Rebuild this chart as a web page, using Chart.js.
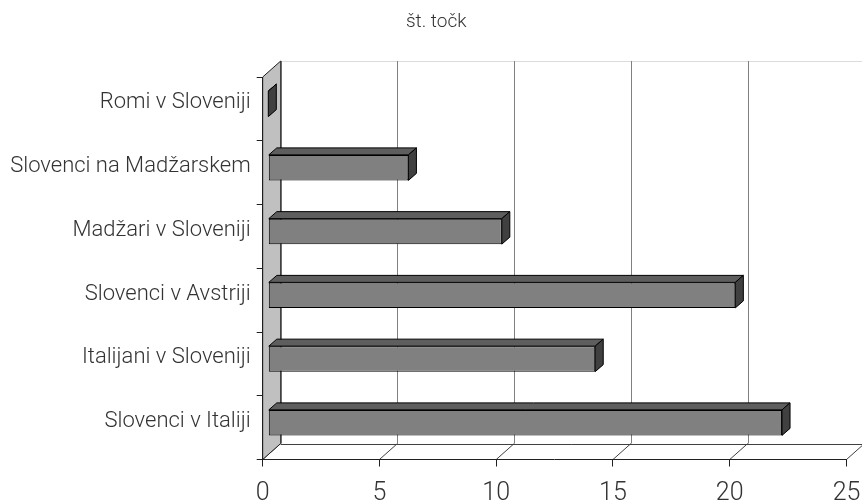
<!DOCTYPE html>
<html>
<head>
<meta charset="utf-8">
<script src="https://cdn.jsdelivr.net/npm/chart.js@4/dist/chart.umd.min.js"></script>
<style>
  html, body { margin: 0; padding: 0; background: #fff; overflow: hidden; }
  #wrap { width: 862px; height: 500px; overflow: hidden; }
</style>
</head>
<body>
<div id="wrap"><canvas id="grafico" width="862" height="520"></canvas></div>
<script>
// categorias (de cima para baixo) e valores
const skupine = ['Romi v Sloveniji', 'Slovenci na Madžarskem', 'Madžari v Sloveniji',
                 'Slovenci v Avstriji', 'Italijani v Sloveniji', 'Slovenci v Italiji'];
const tocke = [0, 6, 10, 20, 14, 22];
const osX = [0, 5, 10, 15, 20, 25];
const naslov = 'št. točk';

// profundidade 3D
const zid = { dx: 18, dy: -16 };      // parede do fundo
const stolpecSpredaj = { dx: 5.6, dy: -5 };
const stolpecGlobina = { dx: 8, dy: -7 };

const fontLabel = "'Roboto', 'DejaVu Sans', sans-serif";

// plugin que desenha paredes, chão e faces das barras
const efeito3D = {
    id: 'efeito3D',
    afterLayout(chart) {
        // título um pouco deslocado para a direita, como no original
        if (chart.titleBlock) chart.titleBlock.left = 26;
    },
    beforeDraw(chart) {
        const { ctx, chartArea: a, scales } = chart;
        const x = scales.x;
        ctx.save();
        // parede do fundo: linhas de grade
        ctx.strokeStyle = '#dcdcdc';
        ctx.lineWidth = 1;
        ctx.beginPath();
        ctx.moveTo(a.left + zid.dx, a.top + zid.dy + 0.5);
        ctx.lineTo(a.right + zid.dx, a.top + zid.dy + 0.5);
        ctx.stroke();
        ctx.strokeStyle = '#808080';
        osX.forEach(v => {
            const px = Math.round(x.getPixelForValue(v) + zid.dx) + 0.5;
            ctx.beginPath();
            ctx.moveTo(px, a.top + zid.dy);
            ctx.lineTo(px, a.bottom + zid.dy);
            ctx.stroke();
        });
        // chão
        ctx.strokeStyle = '#404040';
        ctx.beginPath();
        ctx.moveTo(a.left + zid.dx, Math.round(a.bottom + zid.dy) + 0.5);
        ctx.lineTo(a.right + zid.dx, Math.round(a.bottom + zid.dy) + 0.5);
        osX.forEach(v => {
            const px = x.getPixelForValue(v);
            ctx.moveTo(px, a.bottom);
            ctx.lineTo(px + zid.dx, a.bottom + zid.dy);
        });
        ctx.stroke();
        // parede esquerda
        ctx.fillStyle = '#c0c0c0';
        ctx.strokeStyle = '#202020';
        ctx.beginPath();
        ctx.moveTo(a.left, a.bottom);
        ctx.lineTo(a.left, a.top);
        ctx.lineTo(a.left + zid.dx, a.top + zid.dy);
        ctx.lineTo(a.left + zid.dx, a.bottom + zid.dy);
        ctx.closePath();
        ctx.fill();
        ctx.stroke();
        ctx.restore();
    },
    beforeDatasetsDraw(chart) {
        chart.ctx.save();
        chart.ctx.translate(stolpecSpredaj.dx, stolpecSpredaj.dy);
    },
    afterDatasetsDraw(chart) {
        const ctx = chart.ctx;
        const meta = chart.getDatasetMeta(0);
        const g = stolpecGlobina;
        meta.data.forEach(bar => {
            const { x, y, base, height } = bar.getProps(['x', 'y', 'base', 'height'], true);
            const top = y - height / 2;
            const bottom = y + height / 2;
            ctx.lineWidth = 1;
            ctx.strokeStyle = '#000';
            // face de cima
            ctx.fillStyle = '#5e5e5e';
            ctx.beginPath();
            ctx.moveTo(base, top);
            ctx.lineTo(x, top);
            ctx.lineTo(x + g.dx, top + g.dy);
            ctx.lineTo(base + g.dx, top + g.dy);
            ctx.closePath();
            ctx.fill();
            ctx.stroke();
            // face lateral
            ctx.fillStyle = '#404040';
            ctx.beginPath();
            ctx.moveTo(x, top);
            ctx.lineTo(x, bottom);
            ctx.lineTo(x + g.dx, bottom + g.dy);
            ctx.lineTo(x + g.dx, top + g.dy);
            ctx.closePath();
            ctx.fill();
            ctx.stroke();
        });
        ctx.restore();
    }
};

new Chart(document.getElementById('grafico').getContext('2d'), {
    type: 'bar',
    data: {
        labels: skupine,
        datasets: [{
            data: tocke,
            backgroundColor: '#808080',
            borderColor: '#000',
            borderWidth: 1,
            borderSkipped: false,
            barPercentage: 0.4,
            categoryPercentage: 1
        }]
    },
    options: {
        indexAxis: 'y',
        responsive: false,
        animation: false,
        layout: { padding: { left: 0, right: 15.5, top: 0, bottom: 0 } },
        plugins: {
            legend: { display: false },
            tooltip: { enabled: false },
            title: {
                display: true,
                text: naslov,
                color: '#333',
                font: { family: fontLabel, size: 19, weight: '300' },
                padding: { top: 11, bottom: 43.2 }
            }
        },
        scales: {
            x: {
                min: 0,
                max: 25,
                afterFit: s => {
                    s.height = 520 - 459.5;
                    s.paddingLeft = 0;
                    s.paddingRight = 0;
                },
                afterBuildTicks: s => { s.ticks = osX.map(v => ({ value: v })); },
                grid: { drawOnChartArea: false, tickLength: 7, color: '#202020' },
                border: { color: '#202020' },
                ticks: {
                    color: '#333',
                    padding: 12,
                    font: { family: fontLabel, size: 25, weight: '300' }
                }
            },
            y: {
                afterFit: s => { s.width = 262.7; },
                grid: { drawOnChartArea: false, tickLength: 6, color: '#202020' },
                border: { color: '#202020' },
                ticks: {
                    color: '#333',
                    padding: 6,
                    labelOffset: -6,
                    font: { family: fontLabel, size: 22, weight: '300' }
                }
            }
        }
    },
    plugins: [efeito3D]
});
</script>
</body>
</html>
